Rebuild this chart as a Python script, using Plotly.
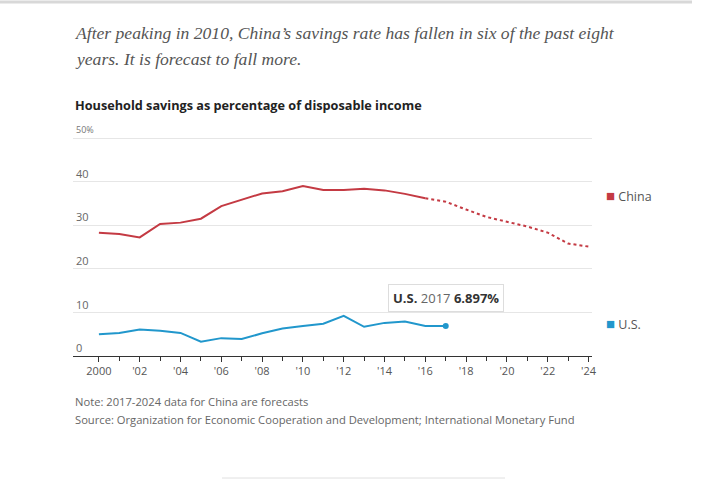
import plotly.graph_objects as go

china_actual_years = list(range(2000, 2017))
china_actual = [28.3, 28.0, 27.2, 30.3, 30.6, 31.5, 34.4, 35.9, 37.3, 37.8, 39.0, 38.1, 38.1, 38.4, 38.0, 37.2, 36.2]
china_forecast_years = list(range(2016, 2025))
china_forecast = [36.2, 35.4, 33.6, 31.9, 30.8, 29.7, 28.3, 25.8, 25.1]
us_years = list(range(2000, 2018))
us_values = [5.0, 5.3, 6.1, 5.8, 5.3, 3.3, 4.1, 3.9, 5.2, 6.3, 6.9, 7.4, 9.2, 6.7, 7.6, 7.9, 6.9, 6.897]

x_tickvals = list(range(2000, 2025, 2))
x_ticktext = ["2000", "'02", "'04", "'06", "'08", "'10", "'12", "'14", "'16", "'18", "'20", "'22", "'24"]
y_tickvals = [0, 10, 20, 30, 40, 50]
y_ticktext = ["0", "10", "20", "30", "40", ""]
y_top_label = "50%"

RED = "#c43a43"
BLUE = "#2197cc"
SANS = "Open Sans"

# plot area in page pixels (y range 0..53, 50 sits at 138px)
LEFT, RIGHT, TOP, BOTTOM = 73, 592, 125, 356
PW, PH = RIGHT - LEFT, BOTTOM - TOP


def px_x(x):
    return (x - LEFT) / PW


def px_y(y):
    return (BOTTOM - y) / PH


fig = go.Figure()
fig.add_trace(go.Scatter(x=china_actual_years, y=china_actual, mode="lines",
                         line=dict(color=RED, width=2), hoverinfo="skip"))
fig.add_trace(go.Scatter(x=china_forecast_years, y=china_forecast, mode="lines",
                         line=dict(color=RED, width=2, dash="dot"), hoverinfo="skip"))
fig.add_trace(go.Scatter(x=us_years, y=us_values, mode="lines",
                         line=dict(color=BLUE, width=2), hoverinfo="skip"))
fig.add_trace(go.Scatter(x=[us_years[-1]], y=[us_values[-1]], mode="markers",
                         marker=dict(color=BLUE, size=6), hoverinfo="skip"))

fig.update_layout(
    width=704, height=495,
    margin=dict(l=LEFT, r=704 - RIGHT, t=TOP, b=495 - BOTTOM),
    plot_bgcolor="white", paper_bgcolor="white",
    showlegend=False,
    font=dict(family=SANS, color="#666666", size=11),
)
fig.update_xaxes(range=[1998.73, 2024.17], tickvals=x_tickvals, ticktext=x_ticktext,
                 showgrid=False, showline=True, linecolor="#333333", linewidth=1,
                 ticks="outside", ticklen=5, tickcolor="#333333",
                 minor=dict(tickvals=list(range(2001, 2024, 2)), ticks="outside", ticklen=4, tickcolor="#333333"),
                 tickfont=dict(size=11, color="#555555"), zeroline=False)
fig.update_yaxes(range=[0, 53], tickvals=y_tickvals, ticktext=y_ticktext,
                 ticklabelposition="inside top", showgrid=True, gridcolor="#e6e6e6",
                 zeroline=False, tickfont=dict(size=11, color="#666666"))
fig.add_annotation(xref="paper", yref="y", x=0, y=y_tickvals[-1], xanchor="left", yanchor="bottom",
                   text=y_top_label, showarrow=False, xshift=1,
                   font=dict(family=SANS, size=9, color="#777777"))

# headline and subtitle
headline_font = dict(family="Liberation Serif", size=17.6, color="#555555")
fig.add_annotation(xref="paper", yref="paper", x=0, xanchor="left", yanchor="middle", y=px_y(33),
                   text="<i>After peaking in 2010, China’s savings rate has fallen in six of the past eight</i>",
                   font=headline_font, showarrow=False)
fig.add_annotation(xref="paper", yref="paper", x=0, xanchor="left", yanchor="middle", y=px_y(59),
                   text="<i>years. It is forecast to fall more.</i>",
                   font=headline_font, showarrow=False)
fig.add_annotation(xref="paper", yref="paper", x=0, xanchor="left", yanchor="middle", y=px_y(105),
                   text="<b>Household savings as percentage of disposable income</b>",
                   font=dict(family=SANS, size=12.7, color="#222222"), showarrow=False)

# notes
fig.add_annotation(xref="paper", yref="paper", x=0, xanchor="left", yanchor="middle",
                   y=px_y(401), text="Note: 2017-2024 data for China are forecasts",
                   font=dict(family=SANS, size=11.2, color="#666666"), showarrow=False)
fig.add_annotation(xref="paper", yref="paper", x=0, xanchor="left", yanchor="middle",
                   y=px_y(419),
                   text="Source: Organization for Economic Cooperation and Development; International Monetary Fund",
                   font=dict(family=SANS, size=11.2, color="#666666"), showarrow=False)

# series labels
fig.add_annotation(xref="paper", yref="paper", x=px_x(604), y=px_y(195),
                   xanchor="left", yanchor="middle", showarrow=False,
                   text=f"<span style='color:{RED};font-size:15px'>■</span> China",
                   font=dict(family=SANS, size=12.5, color="#555555"))
fig.add_annotation(xref="paper", yref="paper", x=px_x(604), y=px_y(323),
                   xanchor="left", yanchor="middle", showarrow=False,
                   text=f"<span style='color:{BLUE};font-size:15px'>■</span> U.S.",
                   font=dict(family=SANS, size=12.5, color="#555555"))

# tooltip
fig.add_annotation(x=us_years[-1], y=us_values[-1], xref="x", yref="y",
                   text="<b>U.S.</b> <span style='color:#666666'>2017</span> <b>6.897%</b>", showarrow=True,
                   arrowcolor="rgba(0,0,0,0)", ax=0, ay=-28,
                   bgcolor="white", bordercolor="#dddddd", borderwidth=1, borderpad=4,
                   font=dict(family=SANS, size=13, color="#333333"))

fig.add_shape(type="line", xref="paper", yref="paper", x0=px_x(0), x1=px_x(692),
              y0=px_y(2), y1=px_y(2), line=dict(color="#d8d8d8", width=3))
fig.add_shape(type="line", xref="paper", yref="paper", x0=px_x(222), x1=px_x(505),
              y0=px_y(478), y1=px_y(478), line=dict(color="#e0e0e0", width=1))

fig.write_html("out.html", config={"displayModeBar": False},
               post_script="document.body.style.margin='0';")
